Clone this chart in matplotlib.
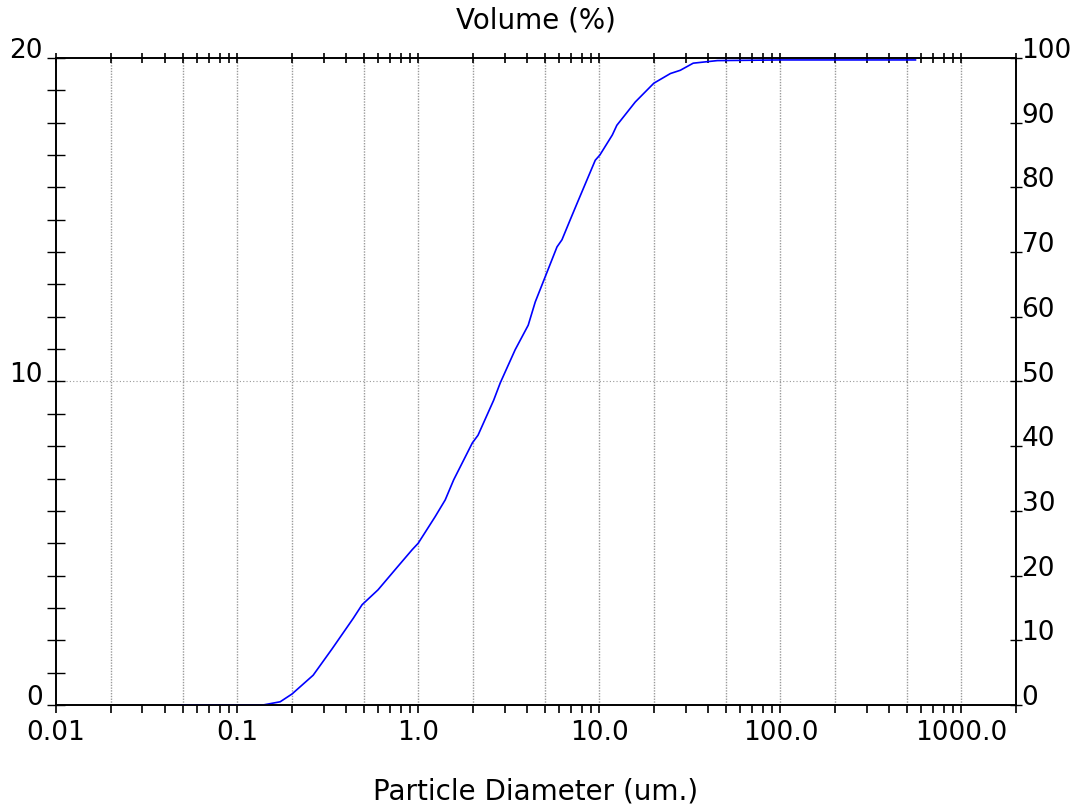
import matplotlib
matplotlib.use("Agg")
import matplotlib.pyplot as plt
from matplotlib.ticker import FixedLocator, NullFormatter

# --- data (cumulative volume %) ---
size_um = [0.049, 0.139, 0.173, 0.201, 0.263, 0.335, 0.438, 0.49, 0.60, 0.766,
           0.926, 1.0, 1.24, 1.41, 1.57, 1.99, 2.14, 2.61, 2.84, 3.43, 4.05,
           4.43, 5.03, 5.84, 6.22, 6.91, 7.53, 9.5, 10.07, 11.8, 12.5, 15.8,
           20.0, 24.7, 28.0, 33.0, 44.9, 100.0, 557.0]
cum_volume = [0, 0, 0.5, 1.7, 4.6, 8.7, 13.4, 15.5, 17.8, 21.3,
              24.0, 25.0, 29.1, 31.7, 34.8, 40.5, 41.7, 47.1, 49.8, 54.9, 58.7,
              62.3, 66.2, 70.8, 71.9, 75.0, 77.5, 84.2, 85.0, 88.1, 89.6, 93.2,
              96.1, 97.6, 98.1, 99.2, 99.6, 99.7, 99.7]

x_major = [0.01, 0.1, 1.0, 10.0, 100.0, 1000.0]
x_major_labels = ["0.01", "0.1", "1.0", "10.0", "100.0", "1000.0"]
x_grid = [m * d for d in [0.01, 0.1, 1, 10, 100] for m in (2, 5, 10)]
x_minor = [m * d for d in [0.01, 0.1, 1, 10, 100, 1000] for m in range(2, 10)]
left_major = [0, 10, 20]
right_major = list(range(0, 101, 10))

fig = plt.figure(figsize=(10.81, 8.05), dpi=100)
ax = fig.add_axes([56 / 1081, 100 / 805, 960 / 1081, 647 / 805])
ax2 = ax.twinx()

ax.set_xscale("log")
ax.set_xlim(0.01, 2000)
ax.set_ylim(0, 20)
ax2.set_ylim(0, 100)

# grid lines
for gx in x_grid:
    ax.axvline(gx, color="#9a9a9a", lw=1.0, ls=(0, (1, 1)), zorder=0)
ax.axhline(10, color="#9a9a9a", lw=0.8, ls=(0, (1, 2)), zorder=0)

# curve
ax2.plot(size_um, cum_volume, color="#0000ff", lw=1.2)

fs = 19
# bottom x axis
ax.xaxis.set_major_locator(FixedLocator(x_major))
ax.set_xticklabels(x_major_labels)
ax.xaxis.set_minor_locator(FixedLocator(x_minor))
ax.xaxis.set_minor_formatter(NullFormatter())
ax.tick_params(axis="x", which="both", direction="out", length=6, width=1.2,
               bottom=True, top=False, labelsize=fs, pad=5)

# top ticks through the twin axes
ax2.xaxis.set_visible(True)
ax2.xaxis.tick_top()
ax2.tick_params(axis="x", which="both", direction="inout", length=7, width=1.2,
                labeltop=False, labelbottom=False, bottom=False, top=True)

# left axis
ax.set_yticks(left_major)
ax.set_yticks(range(0, 21), minor=True)
ax.tick_params(axis="y", which="both", direction="inout", length=13, width=1.0,
               labelsize=fs, pad=3)
for lab in ax.get_yticklabels():
    lab.set_va("baseline")

# right axis
ax2.set_yticks(right_major)
ax2.tick_params(axis="y", which="major", direction="inout", length=8, width=1.0,
                labelsize=fs, pad=0)
for lab in ax2.get_yticklabels():
    lab.set_va("baseline")

for a in (ax, ax2):
    for s in a.spines.values():
        s.set_linewidth(1.2)
        s.set_color("black")

fig.text(536 / 1081, 1 - 20 / 805, "Volume (%)", ha="center", va="center", fontsize=20)
fig.text(536 / 1081, 1 - 791 / 805, "Particle Diameter (um.)", ha="center", va="center",
         fontsize=20)

fig.savefig("out.png", dpi=100)
